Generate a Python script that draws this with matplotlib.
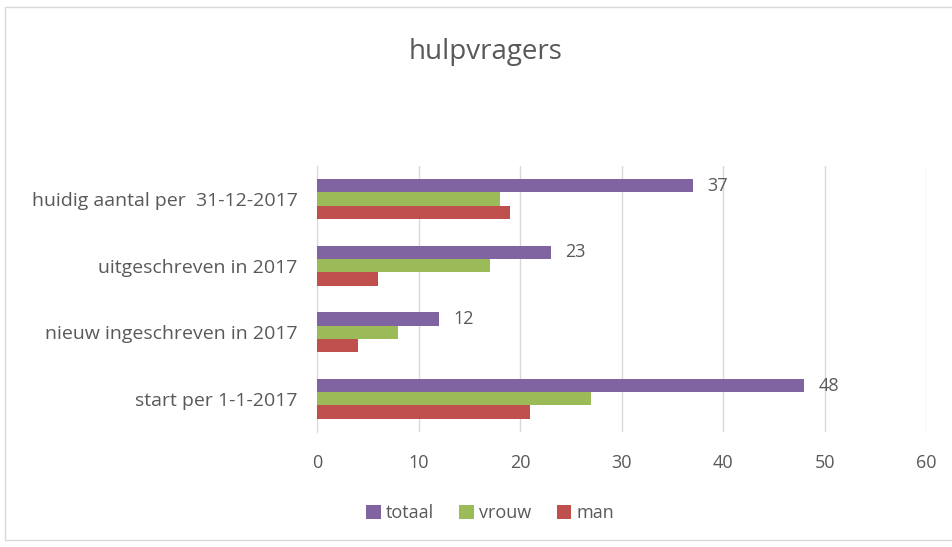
import matplotlib
matplotlib.use("Agg")
import matplotlib.pyplot as plt
from matplotlib.patches import Rectangle
import numpy as np

# categories from bottom to top, as drawn
categories = [
    "start per 1-1-2017",
    "nieuw ingeschreven in 2017",
    "uitgeschreven in 2017",
    "huidig aantal per  31-12-2017",
]
totaal = [48, 12, 23, 37]
vrouw = [27, 8, 17, 18]
man = [21, 4, 6, 19]

series_names = ["totaal", "vrouw", "man"]
series_colors = ["#8064A2", "#9BBB59", "#C0504D"]
text_color = "#595959"

plt.rcParams["font.family"] = ["Open Sans", "DejaVu Sans"]

fig = plt.figure(figsize=(9.52, 5.47), dpi=100)
ax = fig.add_axes([0.333, 0.21, 0.64, 0.487])

# light frame round the chart
fig.patches.append(Rectangle((5 / 952, 7 / 547), 1.0, 533 / 547, transform=fig.transFigure,
                             fill=False, edgecolor="#D9D9D9", linewidth=1.0))

y = np.arange(len(categories))
bar_h = 0.2
offsets = [bar_h, 0.0, -bar_h]
bars = []
for values, name, color, off in zip([totaal, vrouw, man], series_names, series_colors, offsets):
    b = ax.barh(y + off, values, height=bar_h, color=color, label=name, zorder=3)
    bars.append(b)

for rect, val in zip(bars[0], totaal):
    ax.text(rect.get_width() + 1.4, rect.get_y() + rect.get_height() / 2, str(val),
            va="center", ha="left", fontsize=13, color=text_color)

ax.set_xlim(0, 60)
ax.set_ylim(-0.5, len(categories) - 0.5)
ax.set_xticks(range(0, 61, 10))
ax.set_yticks(y)
ax.set_yticklabels(categories)
ax.tick_params(axis="both", length=0, colors=text_color)
ax.tick_params(axis="x", pad=16, labelsize=13)
ax.tick_params(axis="y", pad=14, labelsize=14)
ax.grid(axis="x", color="#D9D9D9", linewidth=1.0, zorder=0)
for side in ["top", "right", "bottom"]:
    ax.spines[side].set_visible(False)
ax.spines["left"].set_color("#D9D9D9")

fig.text(0.51, 0.905, "hulpvragers", ha="center", va="center", fontsize=20, color=text_color)

fig.legend(loc="center", bbox_to_anchor=(0.515, 0.062), ncol=3, frameon=False,
           fontsize=13, labelcolor=text_color, handlelength=0.8, handleheight=0.8,
           handletextpad=0.3, columnspacing=1.4)

fig.savefig("out.png", dpi=100)
